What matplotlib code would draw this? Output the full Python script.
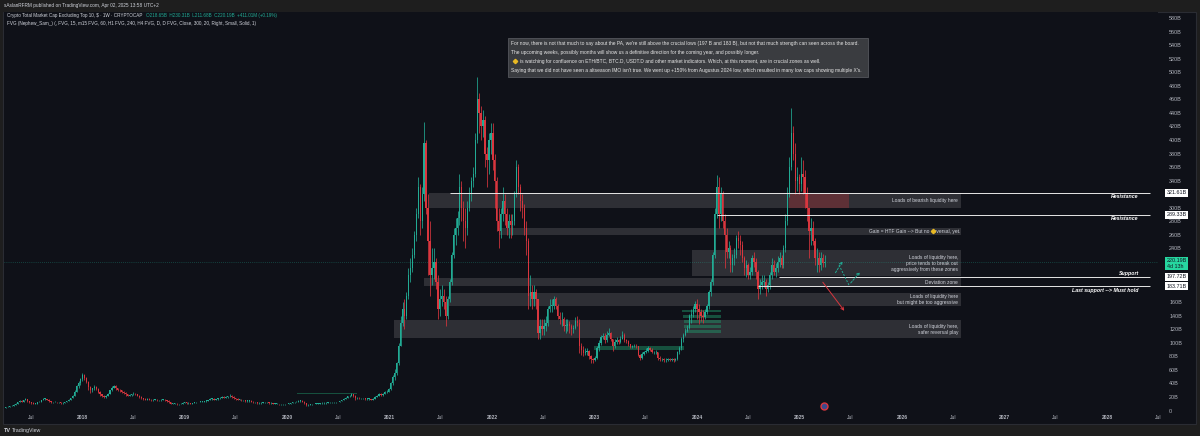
import matplotlib
matplotlib.use('Agg')
import matplotlib.pyplot as plt
import matplotlib.dates as mdates
from matplotlib.patches import Rectangle
from matplotlib.lines import Line2D
from matplotlib.transforms import blended_transform_factory
import numpy as np
import pandas as pd
from datetime import datetime

# weekly candles, values in billions of $, week starting 2017-03-13
close_2017 = [3, 3, 4, 5, 5, 6, 7, 8, 10, 12, 14, 13, 15, 17, 14, 12, 11, 10, 10, 12, 13, 15, 17, 17, 16, 14, 12, 12, 13, 12,
              12, 11, 11, 12, 14, 16, 18, 22, 28, 36, 40, 46]
high_2017 = [3, 4, 4, 5, 6, 6, 8, 9, 11, 13, 15, 15, 16, 18, 17, 14, 12, 12, 11, 13, 14, 16, 18, 19, 17, 17, 14, 13, 14, 13,
             13, 12, 12, 13, 14, 17, 19, 23, 30, 38, 44, 48]
low_2017 = [2, 3, 3, 4, 5, 5, 6, 7, 8, 10, 12, 12, 13, 15, 13, 11, 10, 9, 9, 10, 12, 13, 15, 16, 15, 13, 11, 11, 12, 11,
            11, 10, 10, 11, 12, 14, 16, 18, 22, 27, 34, 38]

close_2018 = [52, 48, 42, 35, 30, 33, 35, 32, 28, 24, 22, 20, 22, 25, 30, 34, 36, 33, 31, 30, 28, 26, 24, 22, 23, 24, 25,
              24, 22, 20, 18, 17, 16, 17, 16, 15, 16, 16, 15, 15, 16, 16, 15, 14, 12, 10, 10, 10, 9, 9, 10, 11, 12]
high_2018 = [56, 54, 50, 43, 36, 34, 37, 36, 33, 29, 25, 23, 23, 26, 31, 36, 38, 37, 34, 32, 31, 29, 27, 25, 24, 25, 27,
             26, 25, 23, 21, 19, 18, 18, 18, 17, 17, 17, 17, 16, 17, 17, 17, 16, 15, 13, 11, 11, 11, 10, 11, 12, 13]
low_2018 = [44, 45, 40, 31, 26, 28, 31, 30, 26, 22, 20, 18, 19, 21, 24, 29, 33, 31, 29, 28, 26, 24, 22, 21, 21, 22, 23,
            23, 21, 19, 17, 16, 15, 15, 15, 14, 14, 15, 14, 14, 14, 15, 14, 13, 11, 9, 9, 9, 8, 8, 9, 10, 11]

close_2019 = [11, 11, 10, 11, 12, 12, 13, 13, 13, 14, 14, 15, 17, 17, 16, 17, 18, 19, 20, 19, 20, 21, 22, 20, 18, 17,
              16, 16, 15, 15, 14, 14, 14, 13, 12, 12, 11, 11, 11, 12, 12, 12, 11, 11, 10, 10, 10, 9, 9, 9, 9, 10]
high_2019 = [13, 12, 11, 11, 12, 13, 13, 14, 14, 14, 15, 15, 18, 18, 18, 17, 19, 20, 21, 21, 21, 22, 24, 23, 21, 19,
             18, 17, 17, 16, 15, 15, 15, 15, 14, 13, 12, 12, 12, 13, 13, 13, 12, 12, 11, 11, 11, 10, 10, 10, 10, 10]
low_2019 = [10, 10, 9, 10, 11, 11, 12, 12, 12, 13, 13, 14, 15, 16, 15, 15, 16, 17, 18, 18, 18, 19, 20, 19, 17, 16,
            15, 15, 14, 14, 13, 13, 13, 12, 11, 11, 10, 10, 10, 11, 11, 11, 10, 10, 9, 9, 9, 8, 8, 8, 8, 9]

close_2020 = [10, 11, 12, 12, 13, 14, 14, 13, 11, 8, 8, 9, 9, 10, 10, 10, 11, 11, 11, 11, 12, 12, 12, 12, 12, 13,
              14, 15, 17, 19, 21, 22, 24, 22, 18, 19, 18, 18, 18, 17, 17, 17, 16, 17, 20, 22, 24, 23, 25, 27, 28, 32]
high_2020 = [11, 11, 12, 13, 14, 15, 15, 15, 14, 11, 10, 10, 10, 10, 11, 11, 11, 12, 12, 12, 12, 13, 13, 13, 13, 13,
             14, 15, 18, 20, 22, 23, 26, 25, 23, 20, 20, 19, 19, 19, 18, 18, 17, 18, 21, 23, 26, 26, 26, 29, 30, 33]
low_2020 = [9, 10, 11, 11, 12, 13, 13, 13, 10, 6, 7, 8, 8, 9, 9, 9, 10, 10, 10, 10, 11, 11, 11, 11, 11, 12,
            13, 14, 15, 17, 19, 20, 21, 20, 16, 17, 17, 17, 17, 16, 16, 16, 15, 16, 17, 20, 21, 21, 22, 24, 26, 27]

close_2021 = [40, 50, 55, 70, 95, 130, 150, 140, 170, 200, 210, 230, 260, 290, 330, 280, 320, 395, 300, 250, 200, 210,
              220, 190, 150, 165, 170, 160, 140, 165, 190, 230, 260, 270, 285, 330, 300, 280, 270, 300, 320, 340, 350,
              400, 460, 440, 420, 430, 380, 370, 400, 410]
high_2021 = [42, 52, 62, 72, 100, 140, 160, 165, 175, 210, 225, 240, 265, 300, 345, 335, 330, 426, 400, 320, 280, 240,
             240, 225, 200, 180, 185, 180, 170, 170, 195, 235, 270, 285, 295, 350, 340, 310, 300, 310, 330, 345, 360,
             410, 493, 470, 450, 445, 435, 390, 410, 425]
low_2021 = [30, 38, 45, 52, 68, 95, 125, 120, 135, 165, 190, 205, 225, 250, 285, 260, 270, 310, 290, 200, 170, 185,
            195, 180, 135, 140, 155, 150, 125, 135, 160, 185, 225, 245, 260, 275, 280, 250, 240, 260, 295, 310, 330,
            345, 395, 410, 400, 405, 360, 330, 350, 380]

close_2022 = [370, 340, 280, 265, 290, 310, 290, 270, 280, 275, 280, 320, 360, 330, 310, 300, 270, 250, 170, 175, 165,
              175, 165, 115, 125, 120, 125, 130, 150, 155, 155, 165, 155, 140, 135, 135, 125, 125, 128, 125, 120, 122,
              132, 130, 95, 90, 85, 87, 88, 80, 76, 75]
high_2022 = [425, 380, 345, 300, 300, 330, 320, 300, 290, 290, 290, 325, 370, 365, 335, 320, 305, 280, 255, 200, 185,
             185, 180, 165, 135, 135, 135, 140, 155, 165, 165, 170, 168, 158, 145, 145, 138, 135, 135, 132, 128, 126,
             138, 140, 135, 100, 95, 92, 92, 90, 82, 78]
low_2022 = [355, 300, 265, 240, 255, 280, 275, 260, 255, 255, 260, 275, 315, 320, 295, 285, 260, 230, 150, 155, 150,
            155, 150, 105, 105, 112, 112, 118, 125, 145, 145, 150, 150, 135, 128, 125, 118, 115, 118, 115, 112, 115,
            120, 125, 85, 82, 80, 82, 82, 76, 70, 70]

close_2023 = [78, 92, 100, 108, 110, 104, 112, 115, 105, 95, 102, 104, 102, 106, 112, 104, 103, 98, 94, 95, 96, 95,
              82, 78, 84, 86, 88, 92, 90, 86, 86, 86, 78, 76, 76, 74, 74, 76, 75, 76, 74, 76, 86, 92, 105, 112, 118,
              122, 140, 142, 150, 158]
high_2023 = [80, 95, 104, 112, 115, 114, 118, 122, 116, 106, 105, 108, 106, 110, 118, 114, 106, 104, 99, 97, 98, 98,
             96, 84, 86, 88, 92, 96, 94, 92, 88, 89, 87, 80, 78, 78, 77, 78, 78, 78, 77, 78, 88, 96, 108, 115, 122,
             126, 142, 150, 154, 162]
low_2023 = [73, 76, 88, 97, 105, 100, 102, 110, 103, 88, 92, 98, 98, 100, 105, 102, 100, 96, 92, 92, 94, 93,
            80, 74, 76, 82, 85, 87, 88, 85, 84, 84, 74, 73, 73, 72, 71, 73, 73, 73, 72, 73, 75, 84, 90, 102, 110,
            116, 120, 130, 138, 146]

close_2024 = [150, 145, 140, 138, 145, 155, 175, 190, 230, 290, 330, 290, 320, 280, 260, 235, 240, 215, 225, 230, 255,
              250, 245, 225, 210, 215, 200, 205, 225, 220, 205, 180, 185, 190, 190, 180, 185, 200, 215, 205, 210, 220,
              225, 215, 240, 280, 320, 360, 410, 380, 340, 345, 335]
high_2024 = [165, 158, 150, 148, 150, 158, 178, 195, 235, 300, 348, 345, 330, 325, 290, 270, 250, 245, 232, 240, 260,
             265, 260, 250, 228, 222, 218, 212, 230, 235, 225, 208, 195, 200, 200, 195, 190, 205, 225, 222, 218, 228,
             235, 230, 245, 290, 330, 375, 447, 420, 395, 360, 350]
low_2024 = [135, 128, 132, 130, 135, 142, 150, 170, 185, 225, 285, 270, 280, 270, 210, 225, 225, 205, 205, 215, 225,
            240, 230, 220, 200, 198, 195, 195, 200, 212, 195, 165, 172, 180, 182, 170, 175, 180, 195, 200, 198, 205,
            212, 210, 210, 235, 275, 315, 355, 370, 320, 325, 320]

close_2025 = [350, 345, 320, 300, 265, 270, 250, 225, 225, 215, 225, 218.65, 220.19]
high_2025 = [375, 370, 355, 330, 300, 285, 280, 255, 240, 235, 235, 232, 230.31]
low_2025 = [325, 320, 300, 280, 225, 245, 245, 215, 205, 205, 208, 212, 211.68]

# drawn zones (gray boxes) and the text written in them
zone_lo = [300, 260, 199, 184, 155, 107]
zone_hi = [321.61, 270, 237, 196, 174, 134]
zone_start = ['2021-05-20', '2022-01-26', '2023-12-13', '2021-05-02', '2021-07-30', '2021-01-16']
zone_text = ['Loads of bearish liquidity here',
             None,
             'Loads of liquidity here,\nprice tends to break out\naggressively from these zones',
             'Deviation zone',
             'Loads of liquidity here\nbut might be too aggressive',
             'Loads of liquidity here,\nsafer reversal play']

# horizontal key levels
levels = [321.61, 289.33, 197.72, 183.71]
level_start = ['2021-08-02', '2024-03-11', '2024-10-20', '2024-08-05']
level_text = ['Resistance', 'Resistance', 'Support', 'Last support --> Must hold']

# FVG boxes from the indicator
fvg_lo = [89, 145, 137, 129.5, 122, 115, 24]
fvg_hi = [95, 148.5, 141, 133.5, 126, 119, 26.5]
fvg_start = ['2022-12-28', '2023-11-10', '2023-11-12', '2023-11-14', '2023-11-16', '2023-11-18', '2020-02-06']
fvg_end = ['2023-11-17', '2024-03-25', '2024-03-25', '2024-03-25', '2024-03-25', '2024-03-25', '2020-09-05']

note_lines = ["For now, there is not that much to say about the PA, we're still above the crucial lows (197 B and 183 B), "
              "but not that much strength can seen across the board.",
              "The upcoming weeks, possibly months will show us a definitive direction for the coming year, and possibly longer.",
              "is watching for confluence on ETH/BTC, BTC.D, USDT.D and other market indicators. Which, at this moment, "
              "are in crucial zones as well.",
              "Saying that we did not have seen a altseason IMO isn't true. We went up +150% from Augustus 2024 low, "
              "which resulted in many low caps showing multiple X's."]

GREEN = '#22ab94'
RED = '#d9363e'
BG = '#0f1118'
TXT = '#d1d4dc'
AX = '#b2b5be'
plt.rcParams['font.family'] = ['Liberation Sans', 'DejaVu Sans']

W, H = 1200, 436
fig = plt.figure(figsize=(12, 4.36), dpi=100, facecolor='#1e1e1e')


def fx(px):
    return px / W


def fy(py):
    return 1 - py / H


# chart panel (behind the axes)
fig.patches.append(Rectangle((fx(3), fy(424)), fx(1193), (424 - 12) / H, transform=fig.transFigure,
                             facecolor=BG, edgecolor='#2a2c33', linewidth=0.8, zorder=-5))

ax = fig.add_axes([fx(4), fy(411), fx(1154), (411 - 12) / H])
ax.set_facecolor(BG)
for s in ax.spines.values():
    s.set_visible(False)

# px -> data helpers for the layout
d0 = mdates.date2num(datetime(2018, 1, 1))


def xp(px):
    return d0 + (px - 83) / 103.2 * 365.25


def vp(py):
    return (410.5 - py) / 0.6763


ax.set_xlim(xp(4), xp(1158))
ax.set_ylim(vp(411), vp(12))

# candles
closes = np.array(close_2017 + close_2018 + close_2019 + close_2020 + close_2021 + close_2022 + close_2023 + close_2024 + close_2025, dtype=float)
highs = np.array(high_2017 + high_2018 + high_2019 + high_2020 + high_2021 + high_2022 + high_2023 + high_2024 + high_2025, dtype=float)
lows = np.array(low_2017 + low_2018 + low_2019 + low_2020 + low_2021 + low_2022 + low_2023 + low_2024 + low_2025, dtype=float)
opens = np.concatenate([[closes[0]], closes[:-1]])
dates = pd.date_range('2017-03-13', periods=len(closes), freq='7D')
xd = mdates.date2num(dates.to_pydatetime())
highs = np.maximum(highs, np.maximum(opens, closes))
lows = np.minimum(lows, np.minimum(opens, closes))
cols = np.where(closes >= opens, GREEN, RED)
ax.vlines(xd, lows, highs, colors=cols, linewidth=0.55, zorder=4)
body = np.maximum(np.abs(closes - opens), 0.8)
ax.bar(xd, body, bottom=np.minimum(opens, closes), width=4.6, color=cols, linewidth=0, zorder=5)

zone_end = mdates.date2num(datetime(2026, 7, 29))
for lo, hi, st, tx in zip(zone_lo, zone_hi, zone_start, zone_text):
    s = mdates.date2num(pd.Timestamp(st).to_pydatetime())
    ax.add_patch(Rectangle((s, lo), zone_end - s, hi - lo, facecolor='#ffffff', alpha=0.13, linewidth=0, zorder=2))
    if tx:
        ax.text(xp(965), (lo + hi) / 2, tx, ha='right', va='center', fontsize=3.5, color=TXT,
                linespacing=1.25, zorder=7)

# red part of bearish box
ax.add_patch(Rectangle((xp(795), 300), xp(855) - xp(795), 321.61 - 300, facecolor='#b8323a', alpha=0.35,
                       linewidth=0, zorder=2))

# gain text with key marker
ax.text(xp(967), 265, 'reversal, yet.', ha='right', va='center', fontsize=3.5, color=TXT, zorder=7)
ax.text(xp(936), 265, 'Gain = HTF Gain --> But no', ha='right', va='center', fontsize=3.5, color=TXT, zorder=7)
ax.plot([xp(939.5)], [266], marker='D', markersize=2.2, color='#e8b923', zorder=7)

for st, lo, hi, en in zip(fvg_start, fvg_lo, fvg_hi, fvg_end):
    s = mdates.date2num(pd.Timestamp(st).to_pydatetime())
    e = mdates.date2num(pd.Timestamp(en).to_pydatetime())
    ax.add_patch(Rectangle((s, lo), e - s, hi - lo, facecolor='#1f9e6e', alpha=0.45, linewidth=0, zorder=3))

for lv, st, tx in zip(levels, level_start, level_text):
    s = mdates.date2num(pd.Timestamp(st).to_pydatetime())
    ax.hlines(lv, s, xp(1158), color='#e6e6e6', linewidth=0.7, zorder=6)
    if tx == 'Support':
        ax.text(xp(1147), lv + 1.5, tx, ha='right', va='bottom', fontsize=3.8, color='white',
                fontweight='bold', fontstyle='italic', zorder=7)
    else:
        ax.text(xp(1147), lv - 2, tx, ha='right', va='top', fontsize=3.8, color='white',
                fontweight='bold', fontstyle='italic', zorder=7)

# current price line
ax.axhline(closes[-1], color=GREEN, linewidth=0.5, linestyle=(0, (1, 2)), alpha=0.6, zorder=3)

# projected paths
ax.annotate('', xy=(xp(850), vp(259)), xytext=(xp(840), vp(275)),
            arrowprops=dict(arrowstyle='->', color=GREEN, lw=0.7, linestyle=(0, (2, 1.5)), mutation_scale=5), zorder=8)
ax.plot([xp(845), xp(855)], [vp(265), vp(285)], color=GREEN, lw=0.7, linestyle=(0, (2, 1.5)), zorder=8)
ax.annotate('', xy=(xp(868), vp(270)), xytext=(xp(855), vp(285)),
            arrowprops=dict(arrowstyle='->', color=GREEN, lw=0.7, linestyle=(0, (2, 1.5)), mutation_scale=5), zorder=8)
ax.annotate('', xy=(xp(852), vp(313)), xytext=(xp(827), vp(280)),
            arrowprops=dict(arrowstyle='->', color='#d9363e', lw=0.7, mutation_scale=5), zorder=8)

# event flag
ax.plot([xp(830)], [vp(406)], marker='o', markersize=5, markerfacecolor='#3b4a8c', markeredgecolor='#d9363e',
        markeredgewidth=1, zorder=8, clip_on=False)

# price scale, labels hidden where a level box sits
box_vals = levels + [closes[-1]]
ticks = [t for t in range(0, 581, 20) if min(abs(t - b) for b in box_vals) > 7]
ax.yaxis.tick_right()
ax.set_yticks(ticks)
ax.set_yticklabels(['0' if t == 0 else f'{t}B' for t in ticks])
ax.tick_params(axis='y', length=0, pad=8, labelsize=3.9, labelcolor=AX)

# time scale
xt, xl = [], []
for yr in range(2017, 2029):
    if yr > 2017:
        xt.append(mdates.date2num(datetime(yr, 1, 1)))
        xl.append(str(yr))
    xt.append(mdates.date2num(datetime(yr, 7, 1)))
    xl.append('Jul')
ax.set_xticks(xt)
ax.set_xticklabels(xl)
ax.tick_params(axis='x', length=0, pad=3, labelsize=3.6, labelcolor=AX)
for lab in ax.get_xticklabels():
    if lab.get_text() != 'Jul':
        lab.set_fontweight('bold')

# price scale labels for the levels
tr = blended_transform_factory(ax.transAxes, ax.transData)
for lv in levels:
    ax.text(1.0075, lv, f'{lv:.2f}B', transform=tr, ha='left', va='center', fontsize=3.9, color='#131722',
            bbox=dict(boxstyle='square,pad=0.25', facecolor='white', edgecolor='none'), zorder=9, clip_on=False)
ax.text(1.0075, closes[-1] - 3, f'{closes[-1]:.2f}B\n4d 13h', transform=tr, ha='left', va='center', fontsize=3.9,
        color='#131722', linespacing=1.1,
        bbox=dict(boxstyle='square,pad=0.25', facecolor='#26d7a0', edgecolor='none'), zorder=9, clip_on=False)

# note box
fig.patches.append(Rectangle((fx(508), fy(77)), fx(360), 39 / H, transform=fig.transFigure,
                             facecolor='#3a3c40', edgecolor='#55575c', linewidth=0.6, zorder=5))
for i, line in enumerate(note_lines):
    xx = 520 if i == 2 else 511
    fig.text(fx(xx), fy(43.5 + i * 9), line, fontsize=3.5, color='#e6e6e6', va='center', ha='left', zorder=6)
fig.add_artist(Line2D([fx(515)], [fy(61.5)], marker='D', markersize=2.2, color='#e8b923', zorder=6))

# header, legend and footer
fig.text(fx(4), fy(5.5), 'sAslanRFRM published on TradingView.com, Apr 02, 2025 13:58 UTC+2', fontsize=3.4,
         color=TXT, va='center')
fig.text(fx(7), fy(16), 'Crypto Total Market Cap Excluding Top 10, $ \u00b7 1W \u00b7 CRYPTOCAP', fontsize=3.3,
         color=TXT, va='center')
fig.text(fx(146), fy(16), 'O218.65B  H230.31B  L211.68B  C220.19B  +411.01M (+0.19%)', fontsize=3.3,
         color=GREEN, va='center')
fig.text(fx(7), fy(23), 'FVG (Nephew_Sam_) (, FVG, 15, m15 FVG, 60, H1 FVG, 240, H4 FVG, D, D FVG, Close, 300, 20, '
         'Right, Small, Solid, 1)', fontsize=3.3, color=TXT, va='center')
fig.text(fx(4), fy(430), 'TV', fontsize=4, color=TXT, va='center', fontweight='bold')
fig.text(fx(12), fy(430), 'TradingView', fontsize=3.8, color=TXT, va='center')

fig.savefig('out.png', dpi=100, facecolor=fig.get_facecolor())
